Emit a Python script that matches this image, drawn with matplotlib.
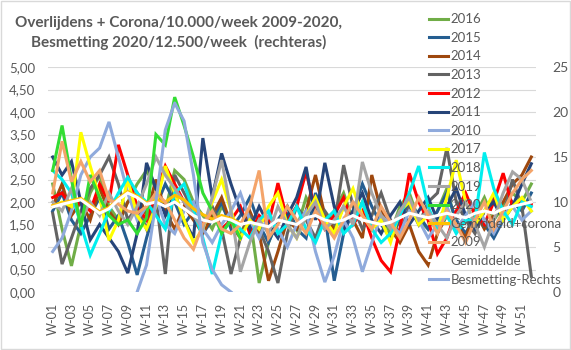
import numpy as np
import matplotlib.pyplot as plt
from matplotlib.patches import Rectangle

plt.rcParams['font.family'] = ['Lato', 'DejaVu Sans']

# week labels W-01 .. W-52
weeks = ["W-%02d" % w for w in range(1, 53)]

# deaths per 10.000 per week (left axis)
y2016 = [2.40, 1.40, 0.58, 1.50, 2.20, 2.60, 1.90, 1.60, 2.00, 2.40,
         2.70, 2.30, 1.80, 2.70, 2.50, 2.00, 1.70, 1.40, 1.90, 1.60,
         1.30, 1.70, 0.20, 1.10, 1.60, 1.90, 1.40, 2.10, 1.70, 1.50,
         1.80, 2.20, 1.60, 2.00, 1.40, 1.70, 1.30, 1.90, 2.20, 1.60,
         1.40, 1.80, 2.30, 1.50, 1.20, 1.70, 2.10, 1.60, 1.90, 2.20,
         2.00, 2.40]
y2015 = [1.80, 2.20, 1.60, 1.30, 1.70, 2.10, 1.40, 1.70, 1.10, 0.38,
         1.20, 1.90, 2.40, 2.00, 1.50, 1.80, 1.30, 1.60, 2.00, 1.40,
         1.70, 2.10, 1.50, 1.10, 1.60, 1.90, 1.40, 1.20, 2.20, 1.70,
         0.25, 1.30, 1.80, 2.40, 1.90, 1.50, 1.20, 1.60, 2.00, 1.70,
         1.40, 1.80, 2.20, 1.60, 1.30, 1.70, 1.50, 1.20, 1.60, 2.00,
         1.80, 2.20]
y2014 = [1.90, 2.40, 1.70, 2.00, 1.60, 2.30, 1.80, 1.50, 2.00, 2.20,
         1.70, 2.50, 1.80, 1.40, 1.90, 1.60, 1.30, 1.70, 2.10, 1.50,
         1.20, 1.80, 1.30, 0.25, 0.90, 1.60, 1.40, 1.80, 2.60, 1.70,
         1.40, 1.90, 1.60, 1.20, 2.60, 1.80, 1.40, 1.10, 1.50, 0.90,
         0.60, 1.30, 1.70, 1.50, 1.20, 1.80, 1.40, 1.70, 2.00, 2.40,
         2.60, 3.00]
y2013 = [1.75, 0.62, 1.20, 1.80, 2.30, 2.60, 3.00, 2.40, 1.60, 1.90,
         1.40, 2.10, 0.40, 2.60, 2.20, 1.80, 1.50, 1.90, 1.40, 0.40,
         1.20, 1.70, 1.40, 0.90, 0.20, 1.30, 1.90, 1.60, 1.20, 1.80,
         1.50, 2.82, 1.90, 1.40, 1.70, 2.20, 1.60, 1.30, 1.90, 1.50,
         2.00, 2.20, 3.20, 2.00, 1.60, 1.30, 1.80, 2.10, 1.70, 2.50,
         1.90, 0.35]
y2012 = [2.10, 2.20, 1.90, 2.00, 1.80, 2.40, 2.00, 3.27, 2.60, 1.90,
         1.60, 2.20, 2.80, 2.40, 2.00, 1.70, 1.50, 1.80, 1.40, 1.60,
         1.90, 1.30, 1.70, 1.50, 2.42, 1.60, 1.90, 2.67, 1.80, 1.40,
         1.70, 2.10, 1.50, 1.80, 1.20, 0.70, 0.45, 1.40, 2.64, 2.00,
         1.60, 0.85, 1.20, 1.80, 2.20, 1.70, 1.50, 2.00, 2.64, 1.90,
         2.00, 1.95]
y2011 = [3.00, 2.60, 2.90, 2.00, 1.16, 1.50, 1.20, 0.90, 0.42, 1.30,
         2.87, 2.30, 1.70, 2.20, 1.60, 1.20, 3.42, 2.10, 3.08, 2.40,
         1.80, 1.40, 1.90, 1.50, 1.20, 1.70, 2.10, 2.78, 1.60, 2.87,
         1.90, 1.40, 1.80, 2.20, 1.60, 1.30, 1.70, 2.00, 1.50, 1.80,
         2.10, 1.60, 1.90, 2.30, 1.70, 1.40, 1.80, 2.00, 1.60, 1.90,
         2.40, 2.85]
y2010 = [0.90, 1.20, 1.80, 2.60, 3.00, 3.20, 3.78, 3.00, 2.20, 1.60,
         1.90, 2.10, 1.50, 1.30, 1.80, 2.00, 1.40, 1.10, 1.50, 1.80,
         2.20, 1.60, 1.20, 1.70, 1.40, 1.00, 1.50, 1.80, 0.90, 0.22,
         0.80, 1.60, 1.20, 0.45, 1.10, 1.70, 1.50, 1.30, 1.80, 1.60,
         1.20, 1.50, 1.90, 1.40, 1.70, 2.00, 1.60, 1.30, 1.70, 1.90,
         1.60, 1.80]
y2017 = [1.90, 2.00, 1.90, 3.55, 2.80, 2.10, 1.15, 1.60, 2.50, 1.70,
         1.40, 1.90, 2.80, 2.20, 1.60, 1.10, 1.40, 2.00, 2.50, 1.80,
         1.20, 1.60, 1.40, 1.90, 2.20, 1.50, 1.20, 1.70, 2.10, 1.60,
         1.30, 1.90, 2.30, 1.70, 1.40, 1.60, 1.10, 1.80, 2.00, 1.50,
         1.70, 1.40, 2.10, 2.93, 2.00, 1.50, 1.80, 2.20, 1.60, 1.90,
         2.10, 1.80]
y2018 = [2.70, 2.50, 2.20, 1.50, 0.82, 1.30, 1.80, 2.20, 2.55, 2.20,
         2.00, 1.70, 1.40, 2.20, 2.40, 1.80, 1.20, 0.40, 1.30, 1.60,
         1.40, 1.20, 1.60, 1.80, 1.30, 1.50, 1.90, 1.40, 1.10, 1.60,
         1.80, 1.30, 1.50, 2.00, 1.40, 1.10, 1.30, 1.70, 2.20, 2.80,
         1.90, 1.40, 1.70, 1.30, 1.60, 1.60, 3.10, 2.30, 1.80, 1.50,
         2.00, 1.90]
y2019 = [2.00, 1.80, 2.30, 1.60, 2.00, 1.70, 2.20, 1.80, 1.50, 1.90,
         2.40, 3.00, 2.60, 2.30, 2.00, 1.70, 1.40, 2.10, 2.93, 1.80,
         0.45, 1.10, 1.60, 1.30, 1.90, 1.50, 1.20, 1.70, 2.00, 1.40,
         1.60, 1.90, 1.50, 2.89, 2.20, 1.70, 1.40, 1.80, 2.10, 1.60,
         1.80, 1.50, 1.20, 1.70, 2.00, 1.50, 1.00, 1.60, 2.20, 2.67,
         2.50, 2.00]
y2020 = [2.70, 3.70, 2.50, 1.45, 2.60, 2.10, 1.70, 1.50, 1.60, 1.30,
         1.65, 3.50, 3.27, 4.33, 3.70, 3.00, 2.20, 1.80, 1.30, 1.60,
         1.20]
y_gem_corona = [1.92, 1.98, 2.03, 2.08, 1.93, 1.78, 1.88, 2.08, 2.23, 2.13,
                1.98, 2.05, 2.00, 2.15, 2.05, 1.85, 1.72, 1.62, 1.70, 1.63,
                1.53]
y2009 = [2.20, 3.35, 2.45, 2.90, 2.45, 2.70, 2.05, 1.95, 1.80, 1.75,
         1.90, 2.20, 2.00, 1.60, 1.20, 0.95, 1.50, 1.80, 1.40, 1.30,
         1.50, 1.90, 2.70, 1.20, 1.50, 1.90, 1.60, 1.30, 1.80, 1.50,
         1.20, 1.60, 2.00, 1.70, 1.40, 1.90, 1.55, 1.20, 1.60, 2.10,
         1.70, 1.30, 1.80, 1.50, 1.10, 1.60, 2.00, 1.40, 1.80, 2.20,
         2.50, 2.70]
y_gem = [1.89, 1.95, 2.00, 2.05, 1.90, 1.75, 1.85, 2.05, 2.20, 2.10,
         1.95, 2.00, 1.90, 2.00, 1.85, 1.70, 1.60, 1.55, 1.65, 1.60,
         1.50, 1.55, 1.50, 1.45, 1.60, 1.55, 1.50, 1.65, 1.70, 1.60,
         1.55, 1.60, 1.70, 1.60, 1.55, 1.50, 1.55, 1.65, 1.75, 1.70,
         1.65, 1.70, 1.75, 1.70, 1.65, 1.75, 1.80, 1.75, 1.85, 1.90,
         1.95, 2.00]
# infections 2020 / 12.500 per week (right axis), starts W-10
besm_start = 9
besmetting = [0.0, 3.0, 10.0, 18.0, 21.0, 19.0, 13.0, 5.5, 2.5, 0.8, 0.0]

series = [("2016", y2016, "#70AD47"),
          ("2015", y2015, "#255E91"),
          ("2014", y2014, "#9E480E"),
          ("2013", y2013, "#636363"),
          ("2012", y2012, "#FF0000"),
          ("2011", y2011, "#264478"),
          ("2010", y2010, "#8FAADC"),
          ("2017", y2017, "#FFFF00"),
          ("2018", y2018, "#00EEEE"),
          ("2019", y2019, "#A5A5A5"),
          ("2020", y2020, "#33DD33"),
          ("Gemiddeld+corona", y_gem_corona, "#FFC000"),
          ("2009", y2009, "#F4A46A"),
          ("Gemiddelde", y_gem, "#FFFFFF")]

grey = "#595959"
fig = plt.figure(figsize=(5.71, 3.5), dpi=100)
ax = fig.add_axes([48/571, 1-292/350, (536-48)/571, (292-67)/350])

handles = []
for name, vals, col in series:
    h, = ax.plot(np.arange(len(vals)), vals, color=col, lw=2.2, label=name,
                 solid_joinstyle="miter")
    handles.append(h)

ax.set_ylim(0, 5)
ax.set_xlim(-0.5, len(weeks) - 0.5)
ax.set_yticks(np.arange(0, 5.01, 0.5))
ax.set_yticklabels([("%.2f" % v).replace(".", ",") for v in np.arange(0, 5.01, 0.5)])
ax.set_xticks(np.arange(0, len(weeks), 2))
ax.set_xticklabels(weeks[::2], rotation=90)
ax.grid(axis="y", color="#D9D9D9", lw=0.8)
ax.set_axisbelow(True)
for s in ax.spines.values():
    s.set_visible(False)
ax.tick_params(length=0, colors=grey, labelsize=9.5)
ax.tick_params(axis="y", pad=9)
ax.tick_params(axis="x", pad=8, labelsize=9)

ax2 = ax.twinx()
h, = ax2.plot(np.arange(besm_start, besm_start + len(besmetting)), besmetting,
              color="#8FAADC", lw=2.2, label="Besmetting-Rechts")
handles.append(h)
ax2.set_ylim(0, 25)
ax2.set_yticks(range(0, 26, 5))
for s in ax2.spines.values():
    s.set_visible(False)
ax2.tick_params(length=0, colors=grey, labelsize=10, pad=12)

fig.text(179/571, 1-33/350,
         "Overlijdens + Corona/10.000/week 2009-2020,\nBesmetting 2020/12.500/week  (rechteras)",
         ha="center", va="center", fontsize=11, fontweight="bold", color=grey,
         linespacing=1.4)

leg = fig.legend(handles=handles, loc="upper left", bbox_to_anchor=(424/571, 1-8/350),
                 frameon=False, fontsize=9.5, labelspacing=0.5, handlelength=1.4,
                 handletextpad=0.2, borderaxespad=0)
for t in leg.get_texts():
    t.set_color(grey)

fig.add_artist(Rectangle((0.002, 0.002), 0.996, 0.994, transform=fig.transFigure,
                         fill=False, edgecolor="#D9D9D9", lw=1))

fig.savefig("out.png", dpi=100)
